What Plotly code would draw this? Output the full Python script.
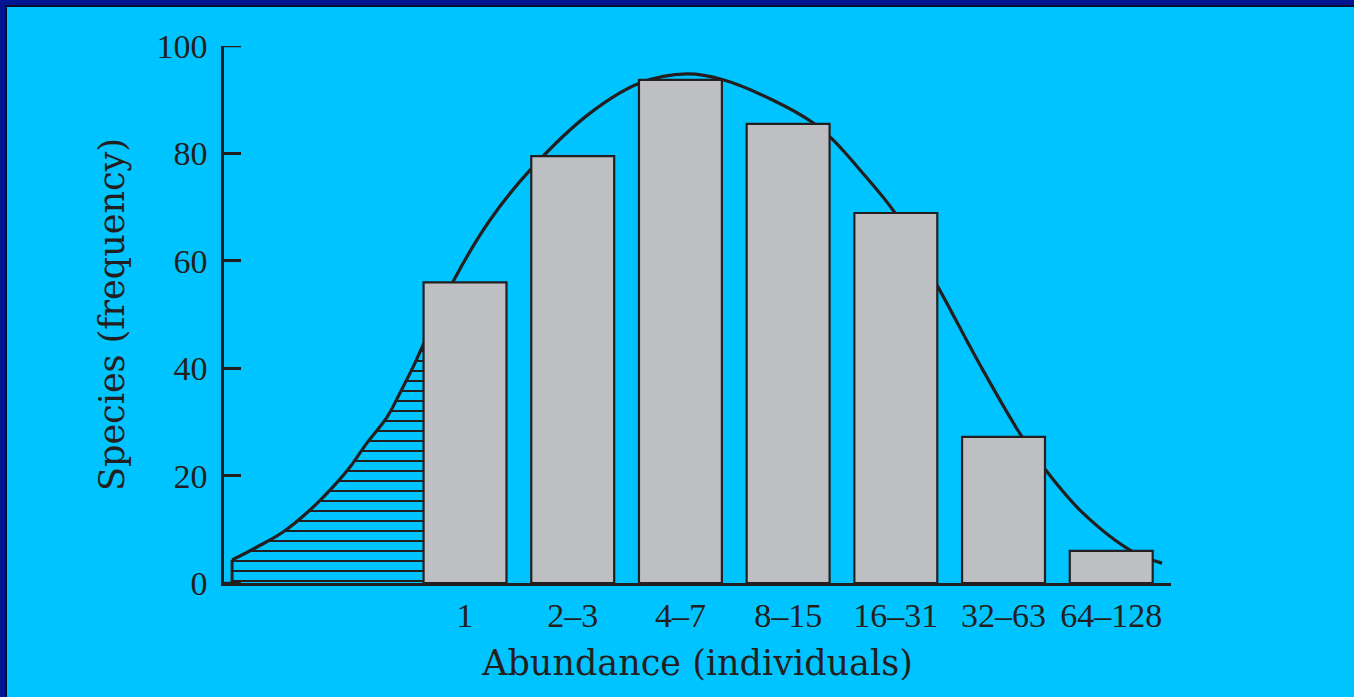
import plotly.graph_objects as go

# ---- data ----
categories = ["1", "2–3", "4–7", "8–15", "16–31", "32–63", "64–128"]
species = [56, 79.5, 93.7, 85.5, 68.9, 27.2, 6.0]

# fitted (lognormal) curve; x in bar-index units
curve_x = [-2.163, -1.931, -1.690, -1.439, -1.226, -1.068, -0.910, -0.724, -0.604,
           -0.483, -0.390, -0.093, 0.232, 0.622, 1.161, 1.625, 2.061, 2.396,
           2.860, 3.231, 3.417, 3.668, 3.993, 4.392, 4.782, 5.172, 5.404, 5.738,
           6.202, 6.472]
curve_y = [4.3, 6.7, 9.5, 13.6, 17.9, 21.6, 26.1, 30.9, 35.4,
           40.2, 44.3, 56.8, 67.6, 77.3, 87.5, 93.1, 94.8, 93.7,
           89.9, 85.7, 82.5, 76.9, 68.9, 55.1, 40.6, 27.2, 20.7, 13.0,
           5.8, 3.7]

# hatched (unobserved) part of the curve, left of the first bar
hatch_end_x = -0.381
hatch_end_y = 44.6

y_ticks = [0, 20, 40, 60, 80, 100]

# ---- styling ----
INK = "#231F20"
CYAN = "#00C4FF"
NAVY = "#001590"
BAR = "#BEBFC3"
TICKFONT = "Liberation Serif"
TITLEFONT = "DejaVu Serif"

W, H = 1354, 697
L, R, T, B = 224, 183, 46, 114
PW, PH = W - L - R, H - T - B
XR = [-2.238, 6.555]
TICKLEN = 17


def px_to_paper_x(px):
    return (px - L) / PW


def px_to_paper_y(py):
    return (H - B - py) / PH


fig = go.Figure()

# curve (drawn under the bars)
fig.add_trace(go.Scatter(
    x=curve_x, y=curve_y, mode="lines",
    line=dict(color=INK, width=3.2, shape="spline", smoothing=1.0),
    hoverinfo="skip", showlegend=False,
))

# hatched area under the curve left of the first bar
hx = [curve_x[0]] + [x for x in curve_x if x <= hatch_end_x] + [hatch_end_x, hatch_end_x]
hy = [0] + [y for x, y in zip(curve_x, curve_y) if x <= hatch_end_x] + [hatch_end_y, 0]
fig.add_trace(go.Scatter(
    x=hx, y=hy, mode="lines", fill="toself",
    line=dict(width=0, color="rgba(0,0,0,0)"),
    fillcolor="rgba(0,0,0,0)",
    fillpattern=dict(shape="-", fgcolor=INK, bgcolor="rgba(0,0,0,0)",
                     size=10, solidity=0.2, fillmode="replace"),
    hoverinfo="skip", showlegend=False,
))
# left edge of the hatched area
fig.add_trace(go.Scatter(
    x=[curve_x[0], curve_x[0]], y=[0, curve_y[0]], mode="lines",
    line=dict(color=INK, width=3), hoverinfo="skip", showlegend=False,
))

# bars on an overlaid axis so they sit above the curve
fig.add_trace(go.Bar(
    x=categories, y=species, xaxis="x2", yaxis="y2",
    width=0.77, marker=dict(color=BAR, line=dict(color=INK, width=2.2)),
    hoverinfo="skip", showlegend=False,
))

# inward tick marks on the y axis, placed at the tick values
tick_shapes = [
    dict(type="line", xref="x domain", yref="y", layer="above",
         x0=0, x1=TICKLEN / PW, y0=v, y1=v, line=dict(color=INK, width=2.5))
    for v in y_ticks
]

border_shapes = [
    dict(type="rect", xref="paper", yref="paper", layer="above",
         x0=px_to_paper_x(2.5), x1=px_to_paper_x(W + 50),
         y0=px_to_paper_y(2.5), y1=px_to_paper_y(H + 50),
         line=dict(color=NAVY, width=6), fillcolor="rgba(0,0,0,0)"),
    dict(type="rect", xref="paper", yref="paper", layer="above",
         x0=px_to_paper_x(6), x1=px_to_paper_x(W + 50),
         y0=px_to_paper_y(6), y1=px_to_paper_y(H + 50),
         line=dict(color="#0B0B30", width=2), fillcolor="rgba(0,0,0,0)"),
]

fig.update_layout(
    width=W, height=H,
    margin=dict(l=L, r=R, t=T, b=B, autoexpand=False),
    paper_bgcolor=CYAN, plot_bgcolor="rgba(0,0,0,0)",
    font=dict(family=TICKFONT, color=INK, size=34),
    xaxis=dict(
        range=XR, tickmode="array", tickvals=list(range(len(categories))),
        ticktext=categories, showgrid=False, zeroline=False,
        showline=True, linecolor=INK, linewidth=2.5, ticks="",
        tickfont=dict(size=34, family=TICKFONT, color=INK),
        ticklabelstandoff=0,
        title=dict(text="Abundance (individuals)", font=dict(size=35, family=TITLEFONT, color=INK),
                   standoff=18),
    ),
    yaxis=dict(
        range=[0, 100], tickmode="array", tickvals=y_ticks,
        showgrid=False, zeroline=False, showline=True, linecolor=INK, linewidth=2.5,
        ticks="inside", ticklen=TICKLEN, tickwidth=2.5, tickcolor=INK,
        tickfont=dict(size=34, family=TICKFONT, color=INK),
        ticklabelstandoff=7,
        title=dict(text="Species (frequency)", font=dict(size=35, family=TITLEFONT, color=INK),
                   standoff=22),
    ),
    xaxis2=dict(overlaying="x", type="category", categoryorder="array",
                categoryarray=categories, range=XR, visible=False),
    yaxis2=dict(overlaying="y", range=[0, 100], visible=False),
    shapes=tick_shapes + border_shapes,
)

fig.write_html(
    "out.html",
    config={"displayModeBar": False},
    post_script="document.body.style.margin='0';document.body.style.overflow='hidden';"
                "document.body.style.background='" + CYAN + "';",
)
